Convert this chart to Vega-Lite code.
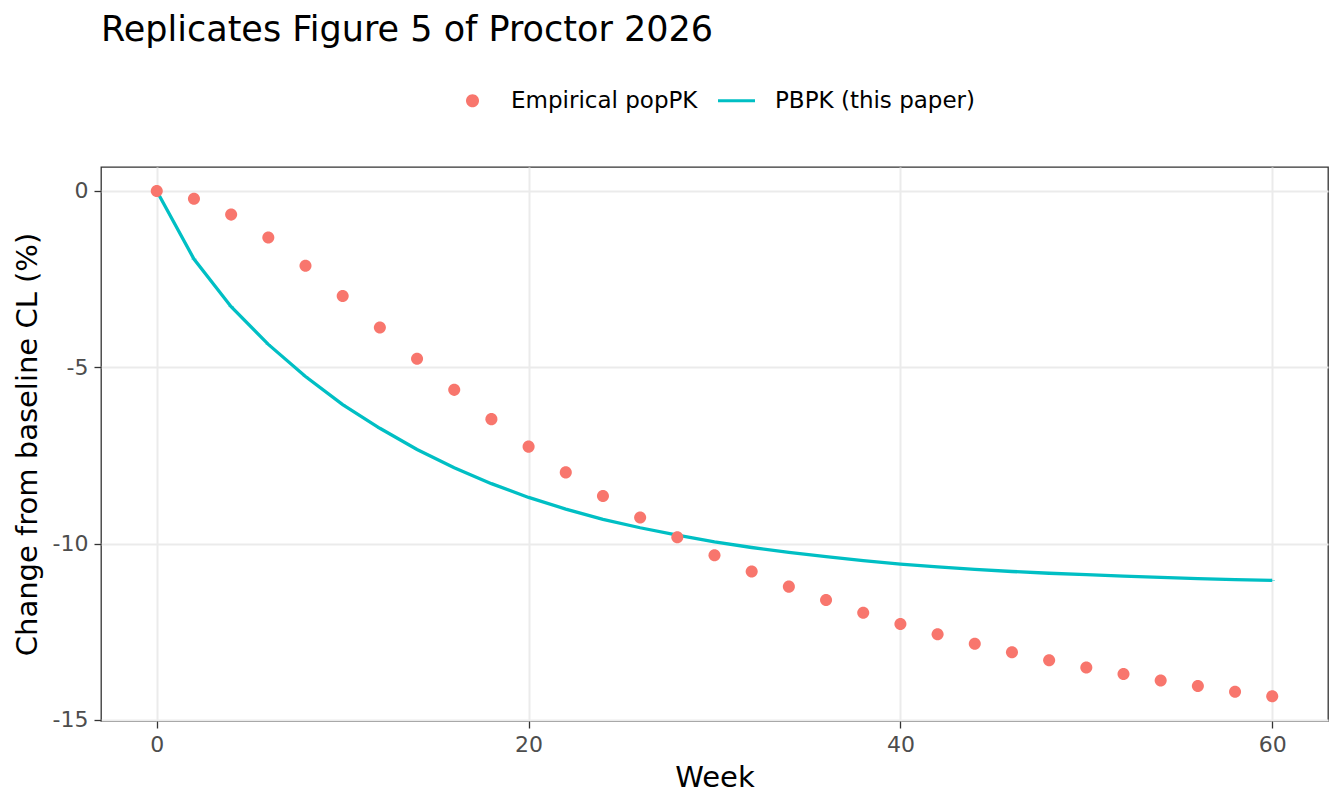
{
  "$schema": "https://vega.github.io/schema/vega-lite/v6.json",
  "width": 1227,
  "height": 554,
  "autosize": "none",
  "padding": {"left": 101, "top": 167, "right": 16, "bottom": 85},
  "background": "white",
  "title": {
    "text": "Replicates Figure 5 of Proctor 2026",
    "anchor": "start",
    "frame": "group",
    "font": "DejaVu Sans",
    "fontSize": 35,
    "fontWeight": "normal",
    "color": "black",
    "offset": 34
  },
  "config": {
    "view": {"stroke": "#333333", "strokeWidth": 1.3},
    "axis": {
      "labelFont": "DejaVu Sans",
      "labelFontSize": 22,
      "labelColor": "#4D4D4D",
      "titleFont": "DejaVu Sans",
      "titleFontSize": 29,
      "titleFontWeight": "normal",
      "titleColor": "black",
      "domain": false,
      "tickColor": "#333333",
      "tickWidth": 1.3,
      "tickSize": 7,
      "labelPadding": 6,
      "gridColor": "#EBEBEB",
      "gridWidth": 2
    },
    "legend": {
      "labelFont": "DejaVu Sans",
      "labelFontSize": 23,
      "labelColor": "black",
      "labelLimit": 400
    }
  },
  "data": {
    "values": [
      {"week": 0, "change": 0, "series": "Empirical popPK"},
      {"week": 2, "change": -0.22, "series": "Empirical popPK"},
      {"week": 4, "change": -0.67, "series": "Empirical popPK"},
      {"week": 6, "change": -1.32, "series": "Empirical popPK"},
      {"week": 8, "change": -2.12, "series": "Empirical popPK"},
      {"week": 10, "change": -2.98, "series": "Empirical popPK"},
      {"week": 12, "change": -3.87, "series": "Empirical popPK"},
      {"week": 14, "change": -4.76, "series": "Empirical popPK"},
      {"week": 16, "change": -5.64, "series": "Empirical popPK"},
      {"week": 18, "change": -6.47, "series": "Empirical popPK"},
      {"week": 20, "change": -7.25, "series": "Empirical popPK"},
      {"week": 22, "change": -7.98, "series": "Empirical popPK"},
      {"week": 24, "change": -8.65, "series": "Empirical popPK"},
      {"week": 26, "change": -9.26, "series": "Empirical popPK"},
      {"week": 28, "change": -9.82, "series": "Empirical popPK"},
      {"week": 30, "change": -10.33, "series": "Empirical popPK"},
      {"week": 32, "change": -10.79, "series": "Empirical popPK"},
      {"week": 34, "change": -11.22, "series": "Empirical popPK"},
      {"week": 36, "change": -11.6, "series": "Empirical popPK"},
      {"week": 38, "change": -11.96, "series": "Empirical popPK"},
      {"week": 40, "change": -12.28, "series": "Empirical popPK"},
      {"week": 42, "change": -12.57, "series": "Empirical popPK"},
      {"week": 44, "change": -12.84, "series": "Empirical popPK"},
      {"week": 46, "change": -13.08, "series": "Empirical popPK"},
      {"week": 48, "change": -13.31, "series": "Empirical popPK"},
      {"week": 50, "change": -13.51, "series": "Empirical popPK"},
      {"week": 52, "change": -13.7, "series": "Empirical popPK"},
      {"week": 54, "change": -13.88, "series": "Empirical popPK"},
      {"week": 56, "change": -14.04, "series": "Empirical popPK"},
      {"week": 58, "change": -14.2, "series": "Empirical popPK"},
      {"week": 60, "change": -14.33, "series": "Empirical popPK"},
      {"week": 0, "change": 0, "series": "PBPK (this paper)"},
      {"week": 2, "change": -1.93, "series": "PBPK (this paper)"},
      {"week": 4, "change": -3.28, "series": "PBPK (this paper)"},
      {"week": 6, "change": -4.35, "series": "PBPK (this paper)"},
      {"week": 8, "change": -5.26, "series": "PBPK (this paper)"},
      {"week": 10, "change": -6.06, "series": "PBPK (this paper)"},
      {"week": 12, "change": -6.73, "series": "PBPK (this paper)"},
      {"week": 14, "change": -7.33, "series": "PBPK (this paper)"},
      {"week": 16, "change": -7.85, "series": "PBPK (this paper)"},
      {"week": 18, "change": -8.3, "series": "PBPK (this paper)"},
      {"week": 20, "change": -8.69, "series": "PBPK (this paper)"},
      {"week": 22, "change": -9.02, "series": "PBPK (this paper)"},
      {"week": 24, "change": -9.31, "series": "PBPK (this paper)"},
      {"week": 26, "change": -9.55, "series": "PBPK (this paper)"},
      {"week": 28, "change": -9.76, "series": "PBPK (this paper)"},
      {"week": 30, "change": -9.95, "series": "PBPK (this paper)"},
      {"week": 32, "change": -10.11, "series": "PBPK (this paper)"},
      {"week": 34, "change": -10.25, "series": "PBPK (this paper)"},
      {"week": 36, "change": -10.37, "series": "PBPK (this paper)"},
      {"week": 38, "change": -10.48, "series": "PBPK (this paper)"},
      {"week": 40, "change": -10.58, "series": "PBPK (this paper)"},
      {"week": 42, "change": -10.66, "series": "PBPK (this paper)"},
      {"week": 44, "change": -10.73, "series": "PBPK (this paper)"},
      {"week": 46, "change": -10.79, "series": "PBPK (this paper)"},
      {"week": 48, "change": -10.84, "series": "PBPK (this paper)"},
      {"week": 50, "change": -10.88, "series": "PBPK (this paper)"},
      {"week": 52, "change": -10.92, "series": "PBPK (this paper)"},
      {"week": 54, "change": -10.96, "series": "PBPK (this paper)"},
      {"week": 56, "change": -10.99, "series": "PBPK (this paper)"},
      {"week": 58, "change": -11.02, "series": "PBPK (this paper)"},
      {"week": 60, "change": -11.04, "series": "PBPK (this paper)"}
    ]
  },
  "datasets": {
    "xminor": [{"week": 10}, {"week": 30}, {"week": 50}],
    "yminor": [{"change": -2.5}, {"change": -7.5}, {"change": -12.5}]
  },
  "layer": [
    {
      "data": {"name": "xminor"},
      "mark": {"type": "rule", "color": "#EBEBEB", "strokeWidth": 1},
      "encoding": {
        "x": {"field": "week", "type": "quantitative"}
      }
    },
    {
      "data": {"name": "yminor"},
      "mark": {"type": "rule", "color": "#EBEBEB", "strokeWidth": 1},
      "encoding": {
        "y": {"field": "change", "type": "quantitative"}
      }
    },
    {
      "transform": [{"filter": "datum.series == 'PBPK (this paper)'"}],
      "mark": {"type": "line", "strokeWidth": 3.3},
      "encoding": {
        "x": {"field": "week", "type": "quantitative"},
        "y": {"field": "change", "type": "quantitative"},
        "color": {"field": "series", "type": "nominal"}
      }
    },
    {
      "transform": [{"filter": "datum.series == 'Empirical popPK'"}],
      "mark": {"type": "point", "filled": true, "opacity": 1, "size": 1170},
      "encoding": {
        "x": {"field": "week", "type": "quantitative"},
        "y": {"field": "change", "type": "quantitative"},
        "color": {"field": "series", "type": "nominal"},
        "shape": {"field": "series", "type": "nominal"}
      }
    }
  ],
  "encoding": {
    "x": {
      "field": "week",
      "type": "quantitative",
      "title": "Week",
      "scale": {"domain": [-3, 63], "nice": false, "zero": false},
      "axis": {"values": [0, 20, 40, 60], "titlePadding": 8}
    },
    "y": {
      "field": "change",
      "type": "quantitative",
      "title": "Change from baseline CL (%)",
      "scale": {"domain": [-15.03, 0.68], "nice": false, "zero": false},
      "axis": {"values": [0, -5, -10, -15], "labelExpr": "'' + datum.value", "titlePadding": 10}
    },
    "color": {
      "field": "series",
      "type": "nominal",
      "scale": {
        "domain": ["Empirical popPK", "PBPK (this paper)"],
        "range": ["#F8766D", "#00BFC4"]
      },
      "legend": {
        "title": null,
        "orient": "none",
        "legendX": 353,
        "legendY": -85,
        "direction": "horizontal",
        "symbolSize": 1369,
        "symbolStrokeWidth": 0,
        "labelOffset": 20,
        "columnPadding": 20,
        "encode": {
          "symbols": {
            "update": {
              "fill": {"scale": "color", "field": "value"},
              "shape": {"scale": "shape", "field": "value"},
              "strokeWidth": {"value": 0},
              "opacity": {"value": 1}
            }
          }
        }
      }
    },
    "shape": {
      "field": "series",
      "type": "nominal",
      "scale": {
        "domain": ["Empirical popPK", "PBPK (this paper)"],
        "range": [
          "M0.352,0A0.352,0.352,0,1,1,-0.352,0A0.352,0.352,0,1,1,0.352,0Z",
          "M-1,-0.085H1V0.085H-1Z"
        ]
      },
      "legend": {
        "title": null,
        "orient": "none",
        "legendX": 353,
        "legendY": -85,
        "direction": "horizontal",
        "symbolSize": 1369,
        "labelOffset": 20,
        "columnPadding": 20
      }
    }
  }
}
